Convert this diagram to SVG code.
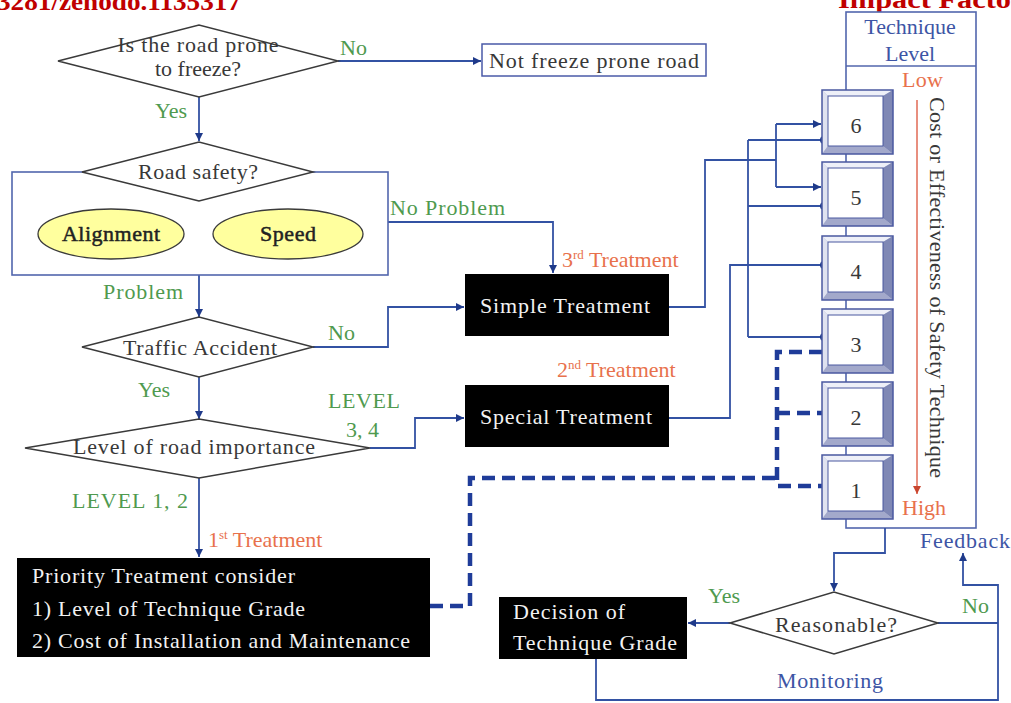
<svg xmlns="http://www.w3.org/2000/svg" xmlns:xlink="http://www.w3.org/1999/xlink" width="1011" height="703" viewBox="0 0 1011 703">
<style>
text{font-family:"Liberation Serif","Times New Roman",serif;font-size:22px;fill:#383838}
.hdr{font-weight:bold;fill:#c00000;font-size:26px}
.g{fill:#4f9a4f}
.o{fill:#e8714c}
.b{fill:#3d55a5}
.w{fill:#f2f2f2}
.dia{fill:#fff;stroke:#3a3a3a;stroke-width:1.5}
.blk{fill:#000}
.ln{fill:none;stroke:#3352a3;stroke-width:1.8}
.dash{fill:none;stroke:#1f3c99;stroke-width:4.5;stroke-dasharray:13 7}
.frame{fill:none;stroke:#5266ad;stroke-width:1.6}
.mid{text-anchor:middle}
.ell{fill:#222;stroke:#222;stroke-width:0.5}
</style>
<defs>
<marker id="arr" viewBox="0 0 10 10" refX="10" refY="5" markerWidth="9" markerHeight="8" markerUnits="userSpaceOnUse" orient="auto"><path d="M0,0 L10,5 L0,10 z" fill="#1f3a8a"/></marker>
<marker id="dot" viewBox="0 0 10 10" refX="5" refY="5" markerWidth="8" markerHeight="8" markerUnits="userSpaceOnUse"><circle cx="5" cy="5" r="5" fill="#1f3a8a"/></marker>
<marker id="rarr" viewBox="0 0 10 10" refX="10" refY="5" markerWidth="10" markerHeight="8" markerUnits="userSpaceOnUse" orient="auto"><path d="M0,0 L10,5 L0,10 z" fill="#c9452e"/></marker>
<g id="btn">
<rect x="0" y="0" width="71" height="64" fill="#b8bedb"/>
<polygon points="0,0 71,0 61,6 6,6" fill="#eef0f8"/>
<polygon points="0,0 6,6 6,56 0,64" fill="#dfe2f0"/>
<polygon points="71,0 71,64 61,56 61,6" fill="#7f88b5"/>
<polygon points="0,64 71,64 61,56 6,56" fill="#a3a9cb"/>
<rect x="6" y="6" width="55" height="50" fill="#fff" stroke="#4a58a0" stroke-width="1"/>
<rect x="0" y="0" width="71" height="64" fill="none" stroke="#4a58a0" stroke-width="1.5"/>
</g>
</defs>
<rect width="1011" height="703" fill="#fff"/>
<text class="hdr" x="-3" y="10" textLength="244" lengthAdjust="spacingAndGlyphs">3281/zenodo.1135317</text>
<text class="hdr" x="838" y="8" textLength="173" lengthAdjust="spacingAndGlyphs">Impact Facto</text>

<g id="col-technique">
<rect x="846" y="12" width="130" height="516" fill="#fff" stroke="#5266ad" stroke-width="1.6"/>
<line x1="846" y1="66" x2="976" y2="66" stroke="#5266ad" stroke-width="1.6"/>
<text class="b mid" x="910" y="34">Technique</text>
<text class="b mid" x="910" y="61">Level</text>
<text class="o" x="902" y="87" textLength="41">Low</text>
<line x1="917" y1="100" x2="917" y2="494" stroke="#e06a55" stroke-width="1.5" marker-end="url(#rarr)"/>
<text class="o" x="902" y="515" textLength="44">High</text>
<text transform="translate(930,97) rotate(90)" x="0" y="0" textLength="381">Cost or Effectiveness of Safety Technique</text>
</g>

<g id="connectors">
<line class="ln" x1="338" y1="61" x2="481" y2="61" marker-end="url(#arr)"/>
<line class="ln" x1="199" y1="97" x2="199" y2="141" marker-end="url(#arr)"/>
<line class="ln" x1="199" y1="275" x2="199" y2="317" marker-end="url(#arr)"/>
<polyline class="ln" points="388,222 553,222 553,273" marker-end="url(#arr)"/>
<polyline class="ln" points="313,347 388,347 388,307 464,307" marker-end="url(#arr)"/>
<line class="ln" x1="199" y1="377" x2="199" y2="419" marker-end="url(#arr)"/>
<polyline class="ln" points="370,448 415,448 415,418 464,418" marker-end="url(#arr)"/>
<line class="ln" x1="199" y1="478" x2="199" y2="557" marker-end="url(#arr)"/>
<polyline class="ln" points="669,307 705,307 705,160 776,160"/>
<line class="ln" x1="776" y1="124" x2="776" y2="187"/>
<line class="ln" x1="776" y1="124" x2="821" y2="124" marker-end="url(#arr)"/>
<line class="ln" x1="776" y1="187" x2="821" y2="187" marker-end="url(#arr)"/>
<polyline class="ln" points="669,418 730,418 730,265 824,265" marker-end="url(#dot)"/>
<line class="ln" x1="748" y1="140" x2="748" y2="337" stroke-width="2.4"/>
<line class="ln" x1="748" y1="140" x2="824" y2="140" stroke-width="2.2" marker-end="url(#dot)"/>
<line class="ln" x1="748" y1="206" x2="824" y2="206" stroke-width="2.2" marker-end="url(#dot)"/>
<line class="ln" x1="748" y1="337" x2="824" y2="337" stroke-width="2.2" marker-end="url(#dot)"/>
<polyline class="dash" points="430,606 470,606 470,478 777,478"/>
<polyline class="dash" points="822,352 777,352 777,486 822,486"/>
<line class="dash" x1="777" y1="413" x2="822" y2="413"/>
<polyline class="ln" points="885,528 885,553 834,553 834,591" marker-end="url(#arr)"/>
<line class="ln" x1="730" y1="623" x2="688" y2="623" marker-end="url(#arr)"/>
<line class="ln" x1="938" y1="623" x2="998" y2="623"/>
<polyline class="ln" points="596,659 596,700 998,700 998,585 963,585 963,553" marker-end="url(#arr)"/>
</g>

<g id="labels">
<text class="g" x="340" y="55">No</text>
<text class="g" x="155" y="118">Yes</text>
<text class="g" x="390" y="215" textLength="115">No Problem</text>
<text class="g" x="103" y="299" textLength="80">Problem</text>
<text class="g" x="328" y="340">No</text>
<text class="g" x="138" y="397">Yes</text>
<text class="g" x="328" y="408" textLength="72">LEVEL</text>
<text class="g" x="346" y="437">3, 4</text>
<text class="g" x="72" y="508" textLength="116">LEVEL 1, 2</text>
<text class="o" x="562" y="267">3<tspan font-size="13" dy="-8">rd</tspan><tspan dy="8"> Treatment</tspan></text>
<text class="o" x="557" y="377">2<tspan font-size="13" dy="-8">nd</tspan><tspan dy="8"> Treatment</tspan></text>
<text class="o" x="208" y="547">1<tspan font-size="13" dy="-8">st</tspan><tspan dy="8"> Treatment</tspan></text>
<text class="g" x="708" y="603">Yes</text>
<text class="g" x="962" y="613">No</text>
<text class="b" x="920" y="548" textLength="90">Feedback</text>
<text class="b" x="777" y="688" textLength="106">Monitoring</text>
</g>

<g id="freeze">
<polygon class="dia" points="58,61 199,25 338,61 199,97"/>
<text class="mid" x="198" y="52" font-size="21" textLength="161">Is the road prone</text>
<text class="mid" x="198" y="76" font-size="21">to freeze?</text>
</g>
<g id="not-freeze">
<rect x="482" y="44" width="224" height="32" fill="#fff" stroke="#4a5aa8" stroke-width="1.5"/>
<text class="mid" x="594" y="68" textLength="210">Not freeze prone road</text>
</g>
<g id="road-safety">
<rect class="frame" x="12" y="172" width="376" height="103"/>
<polygon class="dia" points="82,172 199,142 313,172 199,201"/>
<text class="mid" x="198" y="179" textLength="120">Road safety?</text>
<ellipse cx="111" cy="234" rx="73" ry="25" fill="#ffff9e" stroke="#3a3a3a" stroke-width="1.3"/>
<text class="mid ell" x="111" y="241" textLength="98">Alignment</text>
<ellipse cx="288" cy="234" rx="75" ry="25" fill="#ffff9e" stroke="#3a3a3a" stroke-width="1.3"/>
<text class="mid ell" x="288" y="241" textLength="56">Speed</text>
</g>
<g id="traffic-accident">
<polygon class="dia" points="82,347 199,317 313,347 199,377"/>
<text class="mid" x="200" y="355" textLength="154">Traffic Accident</text>
</g>
<g id="road-importance">
<polygon class="dia" points="25,448 199,419 370,448 199,478"/>
<text class="mid" x="194" y="454" textLength="242">Level of road importance</text>
</g>
<g id="simple">
<rect class="blk" x="465" y="274" width="204" height="62"/>
<text class="w mid" x="565" y="313" textLength="170">Simple Treatment</text>
</g>
<g id="special">
<rect class="blk" x="465" y="385" width="204" height="62"/>
<text class="w mid" x="566" y="424" textLength="172">Special Treatment</text>
</g>
<g id="priority">
<rect class="blk" x="17" y="558" width="413" height="99"/>
<text class="w" x="32" y="583" textLength="263">Priority Treatment consider</text>
<text class="w" x="32" y="616" textLength="273">1) Level of Technique Grade</text>
<text class="w" x="32" y="648" textLength="378">2) Cost of Installation and Maintenance</text>
</g>
<g id="decision">
<rect class="blk" x="499" y="597" width="188" height="62"/>
<text class="w" x="513" y="619" textLength="112">Decision of</text>
<text class="w" x="513" y="650" textLength="164">Technique Grade</text>
</g>
<g id="reasonable">
<polygon class="dia" points="730,623 834,592 938,623 834,654"/>
<text class="mid" x="836" y="632" textLength="122">Reasonable?</text>
</g>
<g id="level6"><use xlink:href="#btn" x="822" y="90"/><text class="mid" x="856" y="133">6</text></g>
<g id="level5"><use xlink:href="#btn" x="822" y="162"/><text class="mid" x="856" y="205">5</text></g>
<g id="level4"><use xlink:href="#btn" x="822" y="236"/><text class="mid" x="856" y="279">4</text></g>
<g id="level3"><use xlink:href="#btn" x="822" y="309"/><text class="mid" x="856" y="352">3</text></g>
<g id="level2"><use xlink:href="#btn" x="822" y="382"/><text class="mid" x="856" y="425">2</text></g>
<g id="level1"><use xlink:href="#btn" x="822" y="455"/><text class="mid" x="856" y="498">1</text></g>
</svg>
